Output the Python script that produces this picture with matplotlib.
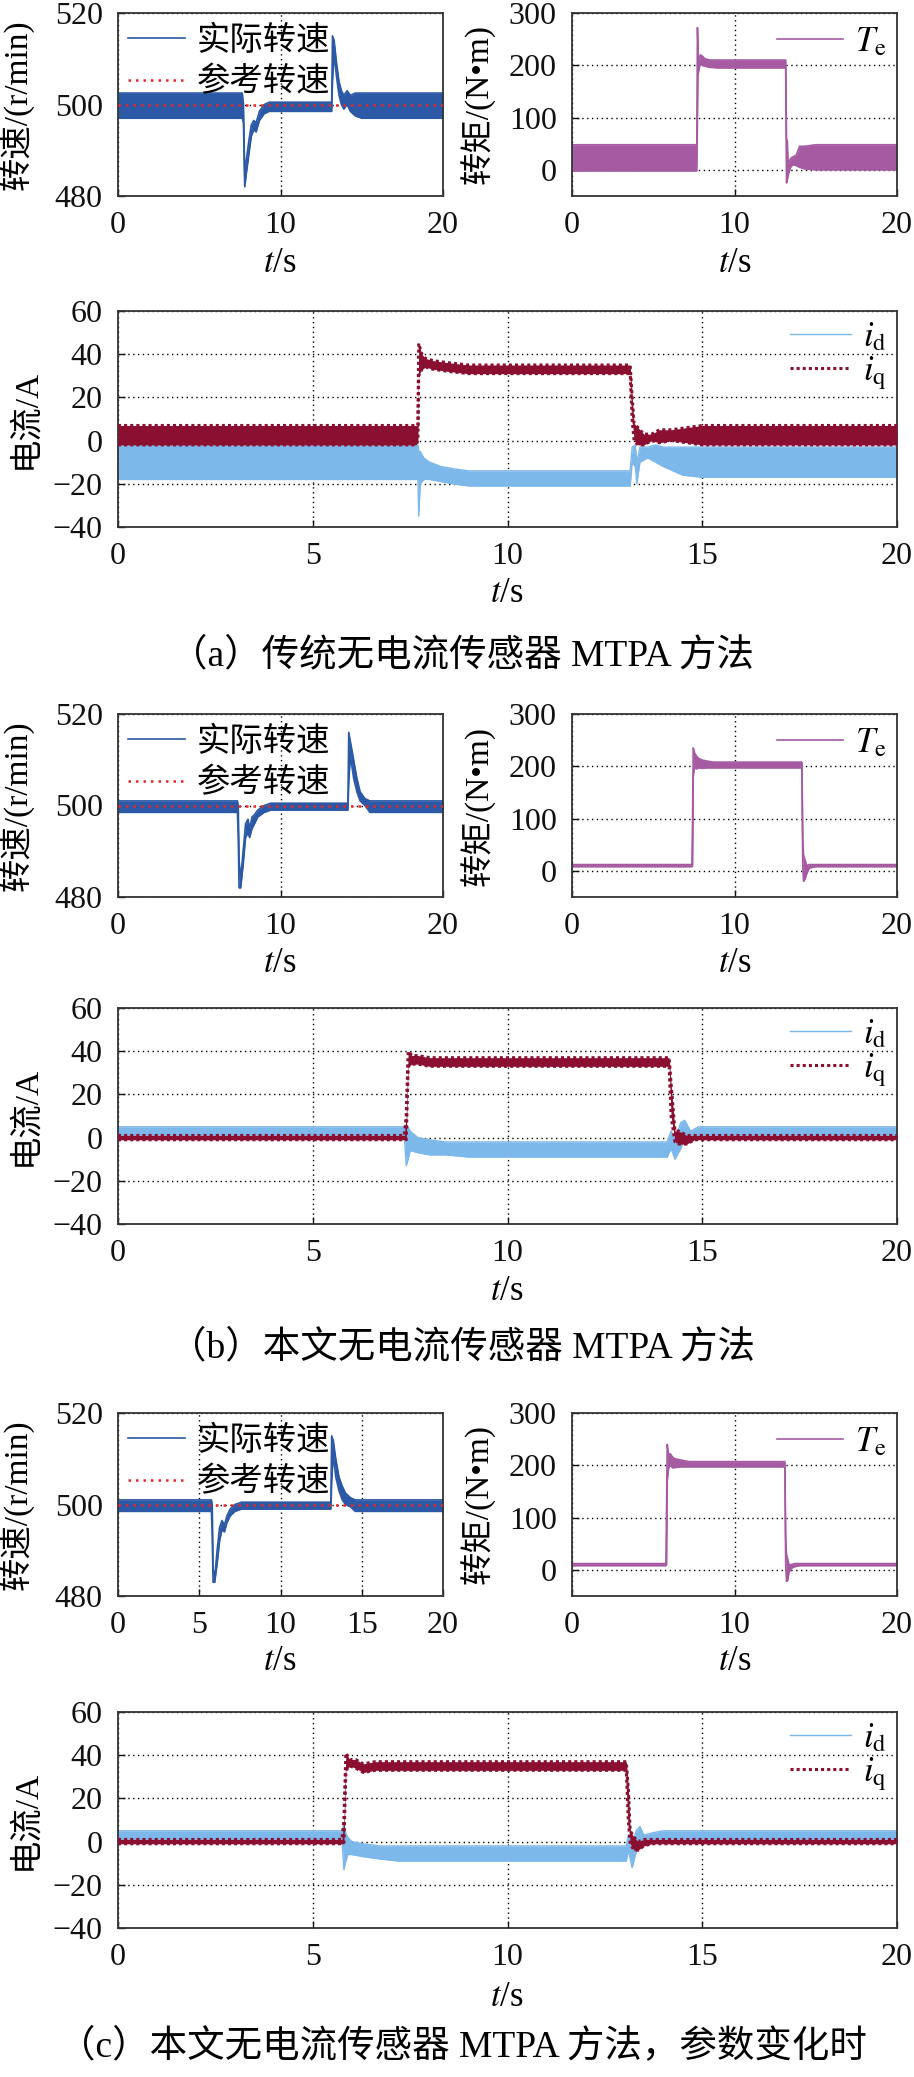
import matplotlib
matplotlib.use("Agg")
import matplotlib.pyplot as plt

plt.rcParams['font.family'] = ['Liberation Serif', 'Noto Sans CJK SC', 'DejaVu Sans']
plt.rcParams['mathtext.fontset'] = 'stix'
plt.rcParams['axes.unicode_minus'] = True

# ---------------- data (envelopes) ----------------
# panel (a)
a_spd_t  = [0, 7.65, 7.72, 7.80, 7.90, 8.05, 8.2, 8.35, 8.5, 8.7, 9.0, 9.3, 13.15, 13.2, 13.3, 13.45, 13.6, 13.75, 13.9, 14.1, 14.3, 14.6, 15.0, 20]
a_spd_hi = [502.5, 502.5, 500, 484, 488, 492, 495.5, 496.5, 496, 498.5, 500, 500.5, 500.5, 515, 514, 509, 505, 503, 502, 503, 502, 502.5, 502.5, 502.5]
a_spd_lo = [497, 497, 496, 482, 485, 489, 493, 494.5, 494, 496.5, 498, 498.5, 498.5, 505, 511, 506, 502, 500, 499, 500, 498.5, 497.5, 497, 497]
a_trq_t  = [0, 7.68, 7.72, 7.75, 7.8, 7.9, 8.0, 8.2, 8.5, 9.0, 13.15, 13.2, 13.25, 13.3, 13.45, 13.6, 13.8, 14.0, 14.3, 15.0, 20]
a_trq_hi = [48, 48, 272, 240, 200, 220, 218, 212, 210, 210, 210, 60, 55, 10, 22, 25, 28, 45, 45, 48, 48]
a_trq_lo = [-2, -2, 100, 180, 190, 205, 200, 198, 196, 195, 195, -25, -20, -10, 5, 10, 8, 5, 2, 0, 0]
a_id_t   = [0, 7.65, 7.70, 7.72, 7.76, 7.85, 8.0, 8.3, 8.6, 9.0, 13.15, 13.2, 13.28, 13.32, 13.4, 13.6, 13.8, 14.0, 14.5, 15.0, 20]
a_id_hi  = [-2, -2, -2, -5, -5, -8, -10, -12, -13, -14, -14, -3, -2, -10, -3, -3, -2, -3, -3, -3, -3]
a_id_lo  = [-18, -18, -18, -35, -20, -18, -18, -19, -20, -21, -21, -10, -12, -20, -10, -8, -10, -12, -16, -17, -17]
a_iq_t   = [0, 7.65, 7.70, 7.72, 7.8, 7.9, 8.1, 8.5, 9.0, 13.15, 13.2, 13.25, 13.35, 13.5, 13.7, 13.9, 14.2, 14.6, 15.0, 20]
a_iq_hi  = [7, 7, 7, 45, 40, 38, 37, 36, 35, 35, 20, 8, 6, 3, 3, 5, 5, 6, 7, 7]
a_iq_lo  = [-2, -2, 0, 30, 33, 34, 33, 32, 31, 31, 10, 0, -2, -2, 0, -1, 0, -1, -2, -2]

# panel (b)
b_spd_t  = [0, 7.35, 7.40, 7.45, 7.55, 7.7, 7.85, 8.0, 8.1, 8.25, 8.4, 8.6, 9.0, 9.4, 14.15, 14.2, 14.3, 14.5, 14.7, 14.9, 15.2, 15.5, 15.8, 20]
b_spd_hi = [501, 501, 500, 488, 484, 490, 496, 497, 495, 497.5, 498, 499, 500, 500.5, 500.5, 516, 514, 510, 506, 503, 501.5, 501, 501, 501]
b_spd_lo = [498.5, 498.5, 493, 482, 482, 487, 493, 494, 493, 495, 496, 497.5, 498.5, 499, 499, 505, 511, 506, 503, 501, 500, 498.5, 498.5, 498.5]
b_trq_t  = [0, 7.38, 7.42, 7.46, 7.55, 7.65, 7.8, 8.0, 8.3, 8.7, 14.15, 14.2, 14.25, 14.35, 14.45, 14.6, 14.8, 15.0, 20]
b_trq_hi = [12, 12, 100, 235, 225, 220, 215, 212, 210, 208, 208, 60, 30, 20, 10, 12, 12, 12, 12]
b_trq_lo = [8, 8, 10, 180, 200, 195, 197, 196, 197, 197, 197, 10, -20, -15, -5, 5, 7, 8, 8]
b_id_t   = [0, 7.35, 7.40, 7.45, 7.5, 7.7, 8.0, 8.4, 9.0, 14.1, 14.2, 14.3, 14.45, 14.55, 14.7, 14.9, 15.0, 20]
b_id_hi  = [5, 5, 6, 5, 3, 0, -1, -2, -2, -2, 3, -1, 7, 8, 3, 5, 5, 5]
b_id_lo  = [1, 1, -13, -10, -6, -7, -8, -8, -9, -9, -5, -10, -5, 0, 0, 1, 1, 1]
b_iq_t   = [0, 7.35, 7.40, 7.45, 7.55, 7.7, 8.0, 9.0, 14.15, 14.2, 14.3, 14.4, 14.6, 14.8, 15.0, 20]
b_iq_hi  = [1, 1, 10, 40, 38, 38, 37, 37, 37, 25, 3, 3, 1, 1, 1, 1]
b_iq_lo  = [-1, -1, -1, 33, 34, 34, 33, 33, 33, 10, -2, -3, -3, -1, -1, -1]

# panel (c)
c_spd_t  = [0, 5.75, 5.80, 5.85, 5.95, 6.1, 6.25, 6.4, 6.55, 6.7, 6.9, 7.2, 7.6, 13.1, 13.15, 13.25, 13.4, 13.6, 13.8, 14.0, 14.3, 14.6, 15.0, 20]
c_spd_hi = [501, 501, 500, 486, 484, 490, 495, 496.5, 495.5, 497.5, 499, 500, 500.5, 500.5, 515, 514, 510, 506, 504, 502.5, 501.5, 501, 501, 501]
c_spd_lo = [498.5, 498.5, 493, 483, 483, 487, 492, 494.5, 494, 496, 497.5, 498.5, 499, 499, 505, 511, 506, 503, 501, 500, 499.5, 498.5, 498.5, 498.5]
c_trq_t  = [0, 5.78, 5.82, 5.86, 5.95, 6.05, 6.2, 6.4, 6.7, 7.2, 13.1, 13.15, 13.2, 13.28, 13.35, 13.5, 13.7, 14.0, 20]
c_trq_hi = [12, 12, 120, 240, 220, 222, 215, 212, 210, 207, 207, 60, 30, 20, 10, 10, 12, 12, 12]
c_trq_lo = [8, 8, 10, 170, 195, 200, 195, 196, 197, 197, 197, 10, -22, -20, -5, 3, 6, 8, 8]
c_id_t   = [0, 5.75, 5.80, 5.85, 5.9, 6.0, 6.3, 6.7, 7.2, 13.05, 13.1, 13.2, 13.3, 13.4, 13.5, 13.7, 14.0, 20]
c_id_hi  = [5, 5, 8, 4, 2, 0, -1, -2, -2, -2, 3, -2, 5, 7, 3, 4, 5, 5]
c_id_lo  = [1, 1, -13, -9, -6, -6, -7, -8, -9, -9, -4, -12, -5, 0, 0, 1, 1, 1]
c_iq_t   = [0, 5.75, 5.80, 5.85, 5.95, 6.1, 6.3, 6.6, 7.0, 13.05, 13.1, 13.15, 13.25, 13.35, 13.5, 13.7, 14.0, 20]
c_iq_hi  = [1, 1, 10, 41, 38, 38, 36, 37, 37, 37, 25, 5, 2, 0, 1, 1, 1, 1]
c_iq_lo  = [-1, -1, -1, 33, 35, 34, 32, 33, 33, 33, 10, -1, -4, -4, -2, -1, -1, -1]

ref_t = [0, 20]
ref_speed = [500, 500]

captions = ['（a）传统无电流传感器 MTPA 方法',
            '（b）本文无电流传感器 MTPA 方法',
            '（c）本文无电流传感器 MTPA 方法，参数变化时']
speed_label = '转速/(r/min)'
torque_label = '转矩/(N•m)'
current_label = '电流/A'
legend_speed = ['实际转速', '参考转速']

C_SPD = '#2b59a6'
C_REF = '#e8262b'
C_TRQ = '#a65aa2'
C_ID = '#7db8ea'
C_IQ = '#8a0f30'

W, H = 914, 2077
fig = plt.figure(figsize=(W / 100, H / 100), dpi=100)


def pos(l, t, r, b):
    return [l / W, 1 - b / H, (r - l) / W, (b - t) / H]


FS = 23
LFS = 24


def style(ax, xt, yt, xl, yl):
    ax.set_xlim(*xl)
    ax.set_ylim(*yl)
    ax.set_xticks(xt)
    ax.set_yticks(yt)
    ax.grid(True, color='black', linestyle=(0, (1, 2.5)), linewidth=1.0)
    ax.set_axisbelow(True)
    ax.tick_params(direction='in', length=5, width=1, labelsize=FS, pad=11, colors='#111111')
    for s in ax.spines.values():
        s.set_linewidth(1.3)
        s.set_color('#333333')


def band(ax, t, lo, hi, color, ls='-', lw=1.0, label=None, z=2):
    ax.fill_between(t, lo, hi, color=color, linewidth=0, zorder=z)
    ax.plot(t, lo, color=color, lw=lw, ls=ls, zorder=z)
    ax.plot(t, hi, color=color, lw=lw, ls=ls, zorder=z, label=label)


panels = [
    dict(spd=(a_spd_t, a_spd_lo, a_spd_hi), trq=(a_trq_t, a_trq_lo, a_trq_hi),
         idd=(a_id_t, a_id_lo, a_id_hi), iq=(a_iq_t, a_iq_lo, a_iq_hi),
         top=13, ctop=311, sxt=[0, 10, 20], tl=263, ctl=593, cap=655),
    dict(spd=(b_spd_t, b_spd_lo, b_spd_hi), trq=(b_trq_t, b_trq_lo, b_trq_hi),
         idd=(b_id_t, b_id_lo, b_id_hi), iq=(b_iq_t, b_iq_lo, b_iq_hi),
         top=714, ctop=1008, sxt=[0, 10, 20], tl=964, ctl=1292, cap=1348),
    dict(spd=(c_spd_t, c_spd_lo, c_spd_hi), trq=(c_trq_t, c_trq_lo, c_trq_hi),
         idd=(c_id_t, c_id_lo, c_id_hi), iq=(c_iq_t, c_iq_lo, c_iq_hi),
         top=1413, ctop=1712, sxt=[0, 5, 10, 15, 20], tl=1662, ctl=1997, cap=2046),
]

for i, p in enumerate(panels):
    top = p['top']
    # speed
    ax = fig.add_axes(pos(118, top, 443, top + 183))
    style(ax, p['sxt'], [480, 500, 520], (0, 20), (480, 520))
    t, lo, hi = p['spd']
    band(ax, t, lo, hi, C_SPD, lw=1.2, label=legend_speed[0])
    ax.plot(ref_t, ref_speed, color=C_REF, ls=(0, (1, 2)), lw=1.8, zorder=4, label=legend_speed[1])
    ax.set_ylabel(speed_label, fontsize=LFS)
    ax.yaxis.set_label_coords(-0.255, 0.5)
    ax.legend(loc='upper left', bbox_to_anchor=(0.0, 0.985), frameon=False, fontsize=LFS,
              handlelength=1.7, handletextpad=0.35, labelspacing=0.3, borderpad=0.3,
              borderaxespad=0.0)
    fig.text(280 / W, 1 - p['tl'] / H, '$t$/s', ha='center', va='center', fontsize=25)

    # torque
    ax = fig.add_axes(pos(572, top, 897, top + 183))
    style(ax, [0, 10, 20], [0, 100, 200, 300], (0, 20), (-50, 300))
    t, lo, hi = p['trq']
    band(ax, t, lo, hi, C_TRQ, lw=1.2, label=r'$T_\mathrm{e}$')
    ax.set_ylabel(torque_label, fontsize=LFS)
    ax.yaxis.set_label_coords(-0.234, 0.5)
    ax.legend(loc='upper right', bbox_to_anchor=(1.0, 0.985), frameon=False, fontsize=25,
              handlelength=1.9, handletextpad=0.35, borderpad=0.3, borderaxespad=0.0)
    fig.text(735 / W, 1 - p['tl'] / H, '$t$/s', ha='center', va='center', fontsize=25)

    # current
    ct = p['ctop']
    ax = fig.add_axes(pos(118, ct, 897, ct + 216))
    style(ax, [0, 5, 10, 15, 20], [-40, -20, 0, 20, 40, 60], (0, 20), (-40, 60))
    t, lo, hi = p['idd']
    band(ax, t, lo, hi, C_ID, lw=1.0, label=r'$i_\mathrm{d}$', z=2)
    t, lo, hi = p['iq']
    band(ax, t, lo, hi, C_IQ, ls=(0, (1, 1)), lw=2.2, label=r'$i_\mathrm{q}$', z=3)
    ax.set_ylabel(current_label, fontsize=LFS)
    ax.yaxis.set_label_coords(-0.099, 0.5)
    ax.legend(loc='upper right', bbox_to_anchor=(1.0, 1.0), frameon=False, fontsize=25,
              handlelength=1.75, handletextpad=0.35, labelspacing=0.0, borderpad=0.3,
              borderaxespad=0.0)
    fig.text(507 / W, 1 - p['ctl'] / H, '$t$/s', ha='center', va='center', fontsize=25)

    fig.text(462 / W, 1 - p['cap'] / H, captions[i], ha='center', va='center', fontsize=27)

fig.savefig('out.png', dpi=100, facecolor='white')
